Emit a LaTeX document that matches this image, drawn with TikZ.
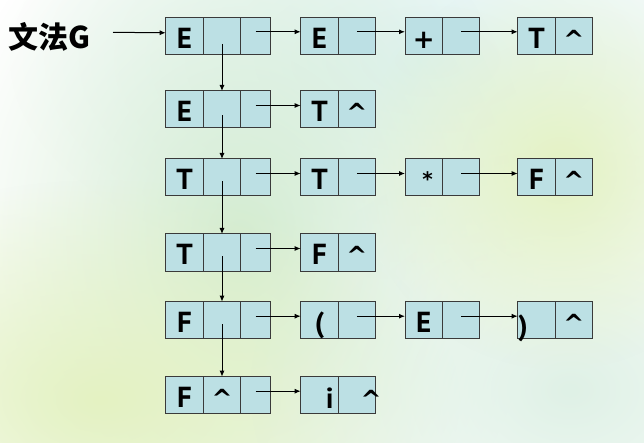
\documentclass[tikz,border=0pt]{standalone}
\usepackage{fontspec}
\setmainfont{PT Sans}
\newfontfamily\cjkfont{Noto Sans CJK SC}
\newfontfamily\symfont{DejaVu Sans}
\usetikzlibrary{arrows.meta,fadings}
\definecolor{boxfill}{HTML}{BCE0E4}
\definecolor{boxline}{HTML}{3A3A3A}
\definecolor{pgreen}{HTML}{D3ECD2}
\definecolor{pyellow}{HTML}{E4F2C2}
\definecolor{pmint}{HTML}{DFF1E6}
\definecolor{pcyan}{HTML}{E0F3F3}
\tikzfading[name=softfade, inner color=transparent!0, outer color=transparent!100]
\newcommand\crt{{\symfont\bfseries\fontsize{25}{25}\selectfont\textasciicircum}}
\tikzset{
  cell/.style={draw=boxline, fill=boxfill, line width=1pt, minimum height=37pt,
    inner sep=0pt, outer sep=0pt, anchor=north west, text height=25pt, text depth=0pt,
    font=\bfseries\fontsize{29}{29}\selectfont},
  glyph/.style={inner sep=0pt, outer sep=0pt, font=\bfseries\fontsize{29}{29}\selectfont},
  patch/.style={path fading=softfade, fit fading=true},
  arr/.style={draw=black, line width=1pt, -{Latex[length=6pt,width=5pt]}}
}
\newcommand\threebox[4]{%
  \node[cell, minimum width=37.6pt] (#1a) at (165.7,#2) {#3};
  \node[cell, minimum width=37.4pt] (#1b) at (203.3,#2) {#4};
  \node[cell, minimum width=29.8pt] (#1c) at (240.7,#2) {};
}
\newcommand\twobox[5]{%
  \node[cell, minimum width=37.6pt] (#1a) at (#2,#3) {#4};
  \node[cell, minimum width=37.2pt] (#1b) at ([xshift=37.6pt]#1a.north west) {#5};
}
\begin{document}
\begin{tikzpicture}[x=1pt,y=-1pt]
\useasboundingbox (0,0) rectangle (644,443);
\fill[white] (0,0) rectangle (644,443);
% soft background patches
\fill[pcyan, patch] (430,60) ellipse (420 and 220);
\fill[pgreen, patch] (240,240) ellipse (300 and 380);
\fill[pyellow, patch] (100,400) ellipse (360 and 220);
\fill[pmint, patch] (570,390) ellipse (320 and 240);
\fill[pyellow, patch] (560,170) ellipse (200 and 200);

% title
\node[inner sep=0pt, font=\cjkfont\bfseries\fontsize{30}{30}\selectfont] (title) at (49,37) {文法G};
\coordinate (start) at (113,32.3);

% row 1
\threebox{r1}{17.3}{E}{}
\twobox{r1p}{300.7}{17.3}{E}{}
\twobox{r1q}{405}{17.3}{{\symfont\bfseries\fontsize{26}{26}\selectfont +}}{}
\twobox{r1s}{517.7}{17.3}{T}{\crt}
% row 2
\threebox{r2}{91}{E}{}
\twobox{r2p}{300.7}{91}{T}{\crt}
% row 3
\threebox{r3}{159}{T}{}
\twobox{r3p}{300.7}{159}{T}{}
\twobox{r3q}{405}{159}{}{}
\twobox{r3s}{517.7}{159}{F}{\crt}
\node[glyph, anchor=north, font=\symfont\bfseries\fontsize{20}{20}\selectfont] (ast) at (427.5,172) {*};
% row 4
\threebox{r4}{234}{T}{}
\twobox{r4p}{300.7}{234}{F}{\crt}
% row 5
\threebox{r5}{301.7}{F}{}
\twobox{r5p}{300.7}{301.7}{(}{}
\twobox{r5q}{405}{301.7}{E}{}
\twobox{r5s}{517.7}{301.7}{}{\crt}
\node[glyph, anchor=base] (rpar) at (523,335) {)};
% row 6
\threebox{r6}{376.7}{F}{\crt}
\twobox{r6p}{300.7}{376.7}{}{}
\node[glyph, anchor=base] (ichar) at (329.7,408) {i};
\node[inner sep=0pt, anchor=base] (caret6) at (371,408) {\crt};

% connectors
\draw[arr] (start) -- ([yshift=3pt]r1a.west);
\foreach \r in {r1,r3,r5} {
  \draw[arr] ([yshift=4pt]\r c.center) -- ([yshift=4pt]\r pa.west);
  \draw[arr] ([yshift=4pt]\r pb.center) -- ([yshift=4pt]\r qa.west);
  \draw[arr] ([yshift=4pt]\r qb.center) -- ([yshift=4pt]\r sa.west);
}
\foreach \r in {r2,r4,r6} {
  \draw[arr] ([yshift=4pt]\r c.center) -- ([yshift=4pt]\r pa.west);
}
\draw[arr] ([yshift=-8pt]r1b.center) -- (r2b.north);
\draw[arr] ([yshift=-6pt]r2b.center) -- (r3b.north);
\draw[arr] ([yshift=-4pt]r3b.center) -- (r4b.north);
\draw[arr] ([yshift=-4pt]r4b.center) -- (r5b.north);
\draw[arr] ([yshift=-4pt]r5b.center) -- (r6b.north);
\end{tikzpicture}
\end{document}
